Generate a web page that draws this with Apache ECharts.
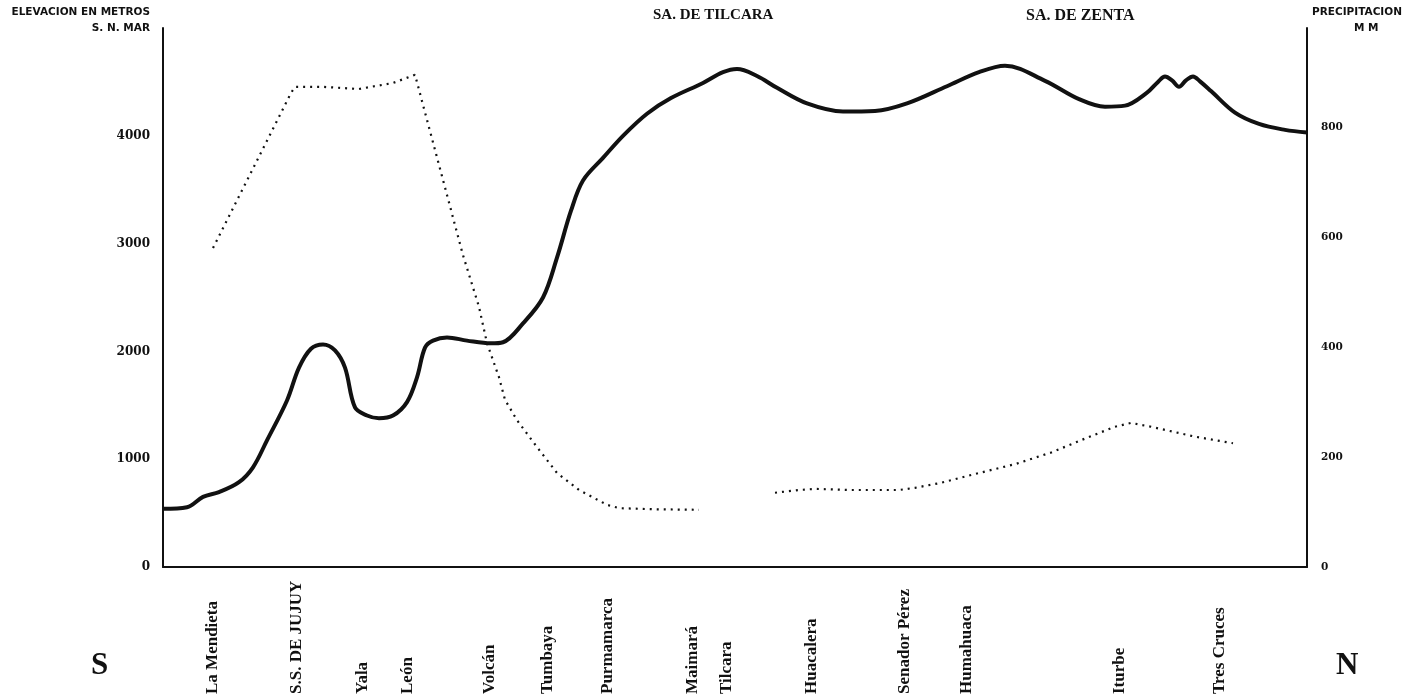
<!DOCTYPE html>
<html>
<head>
<meta charset="utf-8">
<script src="https://cdn.jsdelivr.net/npm/echarts@6/dist/echarts.min.js"></script>
<style>
html,body{margin:0;padding:0;background:#fff;}
#c{width:1415px;height:700px;}
</style>
</head>
<body>
<div id="c"></div>
<script>
// Station names and their distance along the profile (km)
const stationNames = ["La Mendieta","S.S. DE JUJUY","Yala","León","Volcán","Tumbaya","Purmamarca","Maimará","Tilcara","Huacalera","Senador Pérez","Humahuaca","Iturbe","Tres Cruces"];
const stationKm = [12.5,33.5,50,61.25,81.75,96.25,111.25,132.5,141,162.25,185.5,201,239.25,264.25];

// Elevation profile (m above sea level)
const elevKm = [0,6,10,14,19,22.5,26,31,34,37,40,43,45.5,48,51,54,57.5,61,63.5,65.5,67.5,71,76,82,85,90,95,98.5,102,105,110,115,121,127,135,140,143.5,148.5,153.5,161,170,178,186,196,204,210.5,220.5,229,235.5,240.5,246,248.75,250.5,252.25,254,255.75,257.5,259.25,262,268,274,280.5,286];
const elevM  = [540,555,650,695,787,925,1175,1545,1850,2025,2065,2010,1850,1480,1405,1380,1405,1530,1760,2035,2100,2130,2100,2075,2085,2260,2500,2870,3305,3585,3795,4000,4205,4350,4490,4590,4620,4555,4445,4300,4225,4230,4300,4460,4590,4650,4510,4340,4270,4280,4400,4500,4550,4515,4455,4515,4550,4505,4415,4215,4110,4055,4030];

// Precipitation (mm), two segments
const precipKmA = [12.5,32,33,40,49,52,57.5,63,75,79,81,84,85.5,88.5,93.5,98.5,104,111,114,122.5,134];
const precipMmA = [580,862,873,873,869,873,880,895,567,473,407,345,304,267,218,171,140,113,107,105,104];
const precipKmB = [153,159,163,172,184,188,194.5,203.5,213,222,231,238,242,247,258,267.5];
const precipMmB = [135,140,142,140,140,144,153,170,187,208,235,255,262,255,237,225];

const elevLeftTicks = [0,1000,2000,3000,4000];
const precipTicks = [0,200,400,600,800];

const zip = (a,b) => a.map((v,i) => [v,b[i]]);
const precipData = zip(precipKmA, precipMmA).concat([[null,null]]).concat(zip(precipKmB, precipMmB));

const ink = '#111';
const chart = echarts.init(document.getElementById('c'), null, {renderer:'canvas'});

const headStyle = {fontFamily:'DejaVu Sans', fontWeight:'bold', fontSize:10.5, fill:ink};
chart.setOption({
  animation:false,
  backgroundColor:'#fff',
  grid:{left:163,right:108,top:28,bottom:133,outerBoundsMode:'none',containLabel:false},
  xAxis:{
    type:'value', min:0, max:286,
    axisLine:{show:true,lineStyle:{color:ink,width:2}},
    axisTick:{show:false},
    splitLine:{show:false},
    axisLabel:{
      customValues: stationKm,
      formatter: v => { const i = stationKm.indexOf(v); return i >= 0 ? stationNames[i] : ''; },
      rotate:90, align:'left', verticalAlign:'middle', margin:127,
      fontFamily:'Liberation Serif', fontWeight:'bold', fontSize:17, color:ink
    }
  },
  yAxis:[{
    type:'value', min:0, max:5000, interval:1000, position:'left',
    axisLine:{show:true,lineStyle:{color:ink,width:2}},
    axisTick:{show:false}, splitLine:{show:false},
    axisLabel:{
      formatter: v => elevLeftTicks.includes(v) ? String(v) : '',
      margin:13, fontFamily:'DejaVu Serif', fontWeight:'bold', fontSize:12, color:ink
    }
  },{
    type:'value', min:0, max:980, interval:200, position:'right',
    axisLine:{show:true,lineStyle:{color:ink,width:2}},
    axisTick:{show:false}, splitLine:{show:false},
    axisLabel:{
      formatter: v => precipTicks.includes(v) ? String(v) : '',
      showMaxLabel:false,
      margin:14, fontFamily:'DejaVu Serif', fontWeight:'bold', fontSize:10.5, color:ink
    }
  }],
  series:[{
    type:'line', name:'Elevación', yAxisIndex:0,
    data: zip(elevKm, elevM),
    smooth:0.35, showSymbol:false,
    lineStyle:{color:ink,width:4}
  },{
    type:'line', name:'Precipitación', yAxisIndex:1,
    data: precipData,
    connectNulls:false, smooth:false, showSymbol:false,
    lineStyle:{color:ink,width:2.2,type:[2,5],cap:'butt'}
  }],
  graphic:[
    {type:'text', right:1415-150, top:7, style:Object.assign({text:'ELEVACION EN METROS', textAlign:'right'}, headStyle)},
    {type:'text', right:1415-150, top:23, style:Object.assign({text:'S. N. MAR', textAlign:'right'}, headStyle)},
    {type:'text', left:1312, top:7, style:Object.assign({text:'PRECIPITACION'}, headStyle)},
    {type:'text', left:1354, top:23, style:Object.assign({text:'M M'}, headStyle)},
    {type:'text', left:653, top:8, style:{text:'SA. DE TILCARA', fontFamily:'Liberation Serif', fontWeight:'bold', fontSize:15, fill:ink}},
    {type:'text', left:1026, top:8, style:{text:'SA. DE ZENTA', fontFamily:'Liberation Serif', fontWeight:'bold', fontSize:16, fill:ink}},
    {type:'text', left:91, top:650, style:{text:'S', fontFamily:'Liberation Serif', fontWeight:'bold', fontSize:31, fill:ink}},
    {type:'text', left:1336, top:650, style:{text:'N', fontFamily:'Liberation Serif', fontWeight:'bold', fontSize:31, fill:ink}}
  ]
});
</script>
</body>
</html>
